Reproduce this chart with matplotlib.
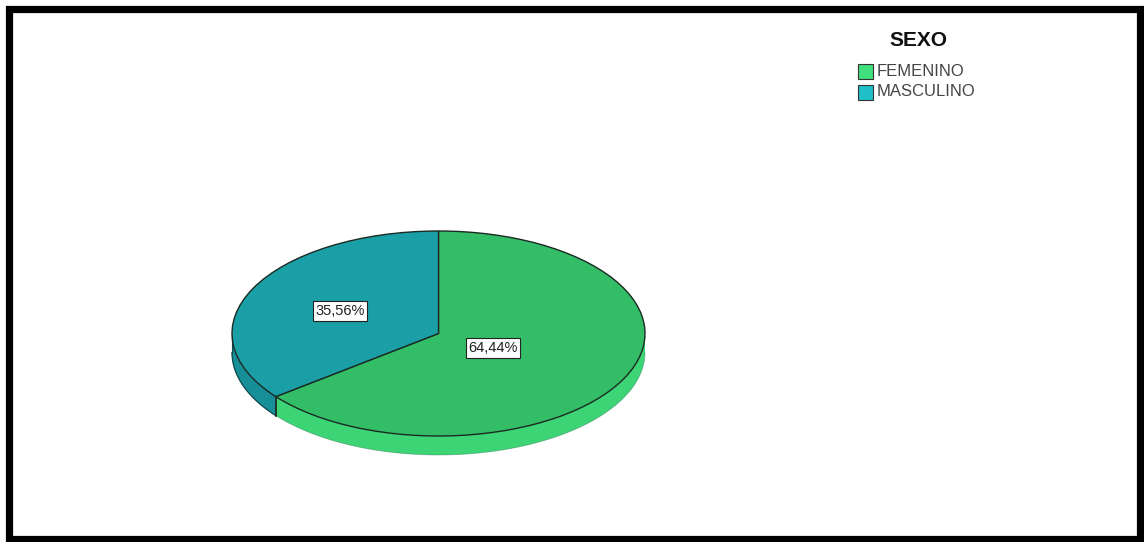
import numpy as np
import matplotlib
matplotlib.use("Agg")
from matplotlib import pyplot as plt
from matplotlib import patches
from matplotlib.transforms import Affine2D

plt.rcParams['font.family'] = ['Liberation Sans', 'DejaVu Sans']

# data
categories = ["FEMENINO", "MASCULINO"]
percent = [64.44, 35.56]
labels = ["64,44%", "35,56%"]
legend_title = "SEXO"

top_colors = ["#34bd67", "#1a9fa6"]
side_colors = ["#3dd476", "#168f98"]
legend_colors = ["#3fdf7c", "#1fc0c8"]

fig = plt.figure(figsize=(11.44, 5.42), dpi=100)
ax = fig.add_axes([0, 0, 1, 1])
ax.set_xlim(0, 1144)
ax.set_ylim(542, 0)
ax.axis("off")

# ellipse geometry (pixels)
cx, cy = 438.5, 333.5
rx, ry = 206.5, 102.5
depth = 19

# masculino runs counterclockwise from 12 o'clock, femenino clockwise
fracs = np.array(percent) / sum(percent)
start = 90.0
m_end = start + fracs[1] * 360
angles = [(m_end, start + 360), (start, m_end)]  # femenino, masculino
side_span = [(m_end, 360), (180, m_end)]


def arc(a1, a2, dy=0.0, n=200):
    t = np.radians(np.linspace(a1, a2, n))
    return np.column_stack([cx + rx * np.cos(t), cy - ry * np.sin(t) + dy])


# side band (front half only)
for i, (s1, s2) in enumerate(side_span):
    top = arc(s1, s2)
    bot = arc(s2, s1, depth)
    poly = patches.Polygon(np.vstack([top, bot]), closed=True,
                           facecolor=side_colors[i], edgecolor="none", zorder=2)
    ax.add_patch(poly)

# side outline
b = arc(180, 360, depth)
ax.plot(b[:, 0], b[:, 1], color="#2a6a50", lw=0.6, alpha=0.4, zorder=3)
b = arc(180, m_end, depth)
ax.plot(b[:, 0], b[:, 1], color="#0b4a50", lw=0.9, zorder=3)
ax.plot([cx - rx, cx - rx], [cy, cy + depth], color="#0b4a50", lw=0.8, zorder=3)
p = arc(m_end, m_end, 0, 1)[0]
ax.plot([p[0], p[0]], [p[1], p[1] + depth], color="#1a1a1a", lw=1.2, zorder=3)

# top face wedges
tr = Affine2D().scale(rx, -ry).translate(cx, cy) + ax.transData
for i, (a1, a2) in enumerate(angles):
    w = patches.Wedge((0, 0), 1, a1, a2, facecolor=top_colors[i],
                      edgecolor="#1a2a22", linewidth=1.0, zorder=4)
    w.set_transform(tr)
    ax.add_patch(w)

# labels
label_pos = [(493, 348), (340, 311)]
for (x, y), txt in zip(label_pos, labels):
    ax.text(x, y, txt, ha="center", va="center", fontsize=10.5, color="#222222",
            zorder=6, bbox=dict(boxstyle="square,pad=0.18", facecolor="white",
                                edgecolor="#222222", linewidth=0.8))

# legend (drawn by hand to match the original layout)
ax.text(918, 41, legend_title, ha="center", va="center", fontsize=15,
        fontweight="bold", color="#111111")
for k, (name, col) in enumerate(zip(categories, legend_colors)):
    yc = 71 + k * 21
    ax.add_patch(patches.Rectangle((858, yc - 7.5), 15, 15, facecolor=col,
                                   edgecolor="#333333", linewidth=0.8))
    ax.text(877, yc, name, ha="left", va="center", fontsize=12, color="#444444")

# black frame
ax.add_patch(patches.Rectangle((8.5, 8.5), 1131, 530, fill=False,
                               edgecolor="black", linewidth=5.2, zorder=10))

fig.savefig("out.png", dpi=100)
